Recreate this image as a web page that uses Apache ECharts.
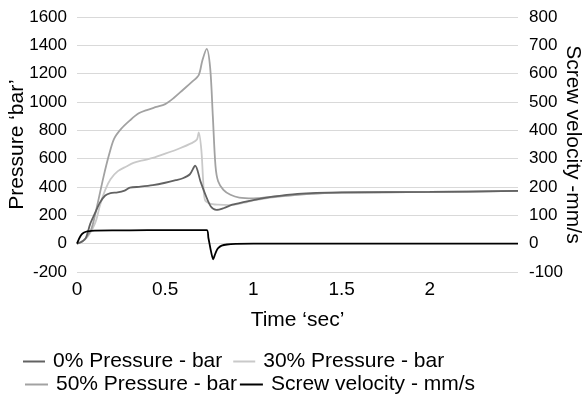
<!DOCTYPE html>
<html>
<head>
<meta charset="utf-8">
<script src="https://cdn.jsdelivr.net/npm/echarts@6/dist/echarts.min.js"></script>
<style>
  html, body { margin: 0; padding: 0; background: #fff; }
  #chart { width: 586px; height: 403px; }
</style>
</head>
<body>
<div id="chart"></div>
<script>
// time (sec) and values
var time0 = [0, 0.03, 0.05, 0.075, 0.1, 0.13, 0.16, 0.19, 0.23, 0.27, 0.3, 0.36, 0.43, 0.5, 0.56, 0.6, 0.64, 0.67, 0.7, 0.73, 0.76, 0.79, 0.83, 0.88, 0.95, 1.0, 1.1, 1.25, 1.5, 2.0, 2.5];
var pressure0 = [0, 15, 40, 140, 210, 290, 340, 357, 362, 375, 395, 402, 413, 430, 448, 462, 490, 550, 440, 340, 260, 238, 250, 275, 295, 308, 330, 352, 362, 365, 372];

var time30 = [0, 0.03, 0.06, 0.09, 0.11, 0.13, 0.16, 0.19, 0.23, 0.28, 0.32, 0.38, 0.43, 0.5, 0.58, 0.65, 0.68, 0.69, 0.705, 0.715, 0.725, 0.75, 0.8, 0.87, 0.95, 1.0, 1.1, 1.3, 1.5, 2.0, 2.5];
var pressure30 = [0, 15, 50, 110, 170, 270, 380, 455, 510, 545, 570, 590, 605, 635, 672, 710, 735, 785, 660, 450, 310, 285, 275, 272, 290, 305, 325, 350, 360, 365, 372];

var time50 = [0, 0.02, 0.05, 0.08, 0.1, 0.12, 0.15, 0.18, 0.21, 0.25, 0.3, 0.35, 0.4, 0.45, 0.5, 0.55, 0.6, 0.65, 0.69, 0.71, 0.735, 0.755, 0.77, 0.785, 0.8, 0.83, 0.87, 0.92, 1.0, 1.1, 1.3, 1.5, 2.0, 2.5];
var pressure50 = [0, 10, 40, 100, 190, 300, 470, 620, 740, 810, 870, 920, 945, 965, 985, 1030, 1085, 1140, 1190, 1290, 1375, 1240, 900, 550, 440, 380, 345, 325, 320, 330, 350, 360, 365, 372];

var timeV = [0, 0.01, 0.02, 0.03, 0.05, 0.08, 0.1, 0.3, 0.5, 0.735, 0.745, 0.76, 0.772, 0.78, 0.79, 0.8, 0.82, 0.85, 0.9, 1.0, 2.5];
var velocity = [0, 15, 27, 35, 42, 45, 46, 47, 48, 48, 20, -28, -55, -42, -26, -16, -7, -3, -1, 0, 0];

var names = ['0% Pressure - bar', '30% Pressure - bar', '50% Pressure - bar', 'Screw velocity - mm/s'];
var colors = ['#626262', '#c9c9c9', '#a2a2a2', '#000000'];

function pairs(xs, ys) {
  return xs.map(function (x, i) { return [x, ys[i]]; });
}

var font = 'Liberation Sans, Arial, sans-serif';
var chart = echarts.init(document.getElementById('chart'));

function line(name, data, color, axis, z) {
  return {
    name: name,
    type: 'line',
    yAxisIndex: axis,
    data: data,
    symbol: 'none',
    smooth: 0.3,
    z: z,
    lineStyle: { color: color, width: 1.8 },
    itemStyle: { color: color }
  };
}

function plain(v) { return String(v); }

var legendText = { fontFamily: font, fontSize: 21, color: '#000', padding: [0, 0, 0, 3] };

chart.setOption({
  animation: false,
  textStyle: { fontFamily: font },
  grid: { left: 77, right: 68, top: 17, bottom: 131, outerBoundsMode: 'none' },
  legend: [
    {
      data: [names[0], names[1]],
      left: 23, top: 351, padding: 0,
      icon: 'rect', itemWidth: 22, itemHeight: 2, itemGap: 11,
      textStyle: legendText
    },
    {
      data: [names[2], names[3]],
      left: 25, top: 374, padding: 0,
      icon: 'rect', itemWidth: 23, itemHeight: 2, itemGap: 3,
      textStyle: legendText
    }
  ],
  xAxis: {
    type: 'value',
    min: 0, max: 2.5, interval: 0.5,
    name: 'Time ‘sec’',
    nameLocation: 'middle',
    nameGap: 38,
    nameTextStyle: { fontSize: 21, color: '#000', verticalAlign: 'top' },
    axisLine: { show: false },
    axisTick: { show: false },
    splitLine: { show: false },
    axisLabel: { fontSize: 19, color: '#000', margin: 8, showMaxLabel: false, formatter: plain }
  },
  yAxis: [
    {
      type: 'value',
      min: -200, max: 1600, interval: 200,
      name: 'Pressure ‘bar’',
      nameLocation: 'middle',
      nameRotate: 90,
      nameGap: 60,
      nameMoveOverlap: false,
      nameTextStyle: { fontSize: 21, color: '#000', verticalAlign: 'middle' },
      axisLine: { show: false },
      axisTick: { show: false },
      axisLabel: { fontSize: 17, color: '#000', margin: 10, formatter: plain },
      splitLine: { lineStyle: { color: '#d9d9d9', width: 1 } }
    },
    {
      type: 'value',
      min: -100, max: 800, interval: 100,
      name: 'Screw velocity -mm/s',
      nameLocation: 'middle',
      nameRotate: -90,
      nameGap: 55,
      nameMoveOverlap: false,
      nameTextStyle: { fontSize: 21, color: '#000', verticalAlign: 'middle' },
      axisLine: { show: false },
      axisTick: { show: false },
      axisLabel: { fontSize: 17, color: '#000', margin: 11, formatter: plain },
      splitLine: { show: false }
    }
  ],
  series: [
    line(names[0], pairs(time0, pressure0), colors[0], 0, 4),
    line(names[1], pairs(time30, pressure30), colors[1], 0, 2),
    line(names[2], pairs(time50, pressure50), colors[2], 0, 3),
    line(names[3], pairs(timeV, velocity), colors[3], 1, 5)
  ]
});
</script>
</body>
</html>
